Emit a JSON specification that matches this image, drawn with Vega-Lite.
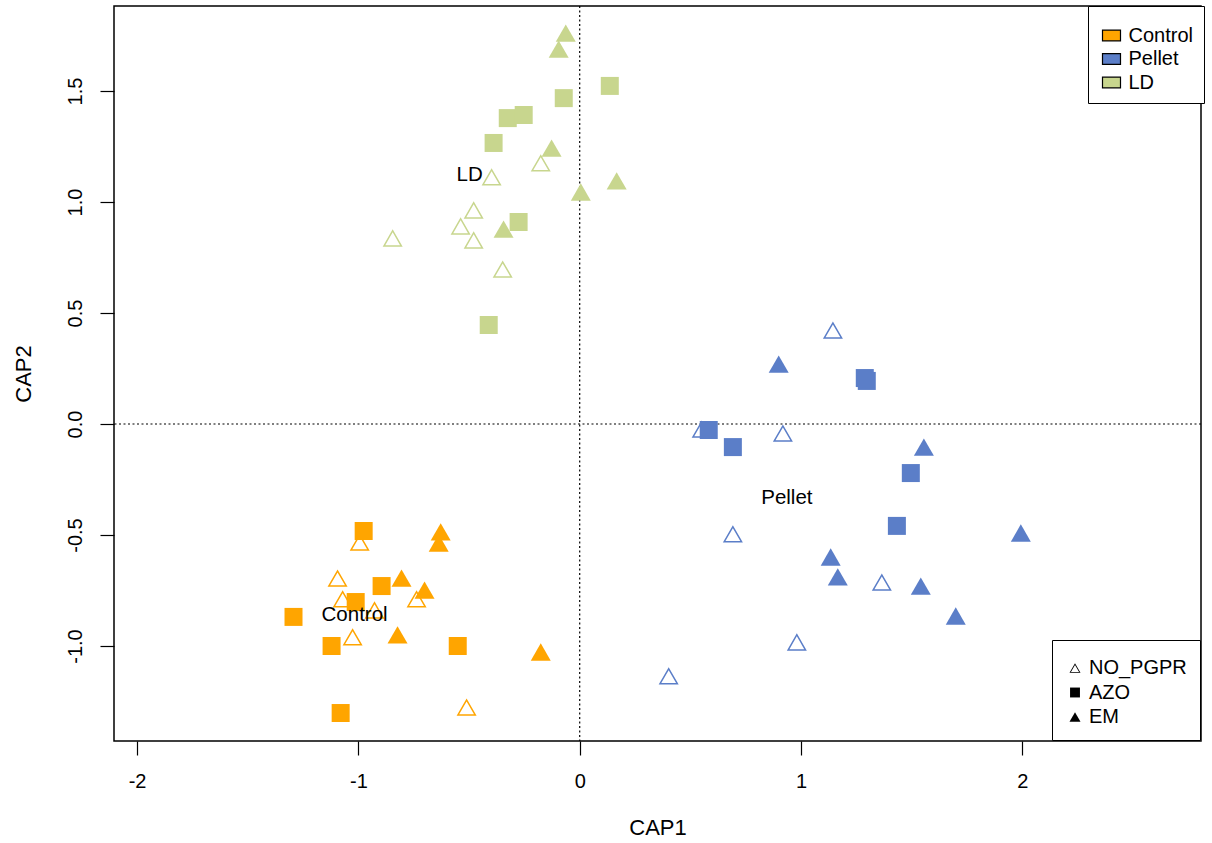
{
  "$schema": "https://vega.github.io/schema/vega-lite/v6.json",
  "width": 1087,
  "height": 735,
  "autosize": "none",
  "padding": {"left": 114, "top": 6, "right": 11, "bottom": 102},
  "background": "white",
  "config": {
    "font": "Liberation Sans",
    "view": {"stroke": "black", "strokeWidth": 1.5},
    "axis": {"grid": false, "domain": false, "tickColor": "black", "tickWidth": 1.2, "tickSize": 14, "labelFontSize": 20, "labelColor": "black", "labelFont": "Liberation Sans", "titleFont": "Liberation Sans", "titleFontSize": 22, "titleFontWeight": "normal", "titleColor": "black"},
    "axisX": {"labelPadding": 16, "titlePadding": 26},
    "axisY": {"labelPadding": 15, "titlePadding": 30, "labelAngle": 270, "labelAlign": "center", "labelBaseline": "bottom"}
  },
  "datasets": {
    "points": [
      {"site": "Control", "treatment": "NO_PGPR", "CAP1": -0.994, "CAP2": -0.532},
      {"site": "Control", "treatment": "NO_PGPR", "CAP1": -1.094, "CAP2": -0.694},
      {"site": "Control", "treatment": "NO_PGPR", "CAP1": -1.071, "CAP2": -0.788},
      {"site": "Control", "treatment": "NO_PGPR", "CAP1": -0.927, "CAP2": -0.838},
      {"site": "Control", "treatment": "NO_PGPR", "CAP1": -0.737, "CAP2": -0.788},
      {"site": "Control", "treatment": "NO_PGPR", "CAP1": -1.026, "CAP2": -0.959},
      {"site": "Control", "treatment": "NO_PGPR", "CAP1": -0.511, "CAP2": -1.275},
      {"site": "LD", "treatment": "NO_PGPR", "CAP1": -0.176, "CAP2": 1.176},
      {"site": "LD", "treatment": "NO_PGPR", "CAP1": -0.398, "CAP2": 1.113},
      {"site": "LD", "treatment": "NO_PGPR", "CAP1": -0.479, "CAP2": 0.964},
      {"site": "LD", "treatment": "NO_PGPR", "CAP1": -0.538, "CAP2": 0.892},
      {"site": "LD", "treatment": "NO_PGPR", "CAP1": -0.479, "CAP2": 0.829},
      {"site": "LD", "treatment": "NO_PGPR", "CAP1": -0.845, "CAP2": 0.838},
      {"site": "LD", "treatment": "NO_PGPR", "CAP1": -0.348, "CAP2": 0.698},
      {"site": "Pellet", "treatment": "NO_PGPR", "CAP1": 1.144, "CAP2": 0.423},
      {"site": "Pellet", "treatment": "NO_PGPR", "CAP1": 0.551, "CAP2": -0.023},
      {"site": "Pellet", "treatment": "NO_PGPR", "CAP1": 0.918, "CAP2": -0.041},
      {"site": "Pellet", "treatment": "NO_PGPR", "CAP1": 0.692, "CAP2": -0.495},
      {"site": "Pellet", "treatment": "NO_PGPR", "CAP1": 1.365, "CAP2": -0.712},
      {"site": "Pellet", "treatment": "NO_PGPR", "CAP1": 0.981, "CAP2": -0.982},
      {"site": "Pellet", "treatment": "NO_PGPR", "CAP1": 0.402, "CAP2": -1.135},
      {"site": "Control", "treatment": "AZO", "CAP1": -0.976, "CAP2": -0.482},
      {"site": "Control", "treatment": "AZO", "CAP1": -0.895, "CAP2": -0.730},
      {"site": "Control", "treatment": "AZO", "CAP1": -1.012, "CAP2": -0.802},
      {"site": "Control", "treatment": "AZO", "CAP1": -1.293, "CAP2": -0.869},
      {"site": "Control", "treatment": "AZO", "CAP1": -1.121, "CAP2": -1.0},
      {"site": "Control", "treatment": "AZO", "CAP1": -0.551, "CAP2": -1.0},
      {"site": "Control", "treatment": "AZO", "CAP1": -1.080, "CAP2": -1.302},
      {"site": "LD", "treatment": "AZO", "CAP1": 0.136, "CAP2": 1.523},
      {"site": "LD", "treatment": "AZO", "CAP1": -0.072, "CAP2": 1.468},
      {"site": "LD", "treatment": "AZO", "CAP1": -0.325, "CAP2": 1.378},
      {"site": "LD", "treatment": "AZO", "CAP1": -0.253, "CAP2": 1.392},
      {"site": "LD", "treatment": "AZO", "CAP1": -0.389, "CAP2": 1.266},
      {"site": "LD", "treatment": "AZO", "CAP1": -0.276, "CAP2": 0.910},
      {"site": "LD", "treatment": "AZO", "CAP1": -0.411, "CAP2": 0.446},
      {"site": "Pellet", "treatment": "AZO", "CAP1": 1.288, "CAP2": 0.207},
      {"site": "Pellet", "treatment": "AZO", "CAP1": 1.297, "CAP2": 0.194},
      {"site": "Pellet", "treatment": "AZO", "CAP1": 0.583, "CAP2": -0.027},
      {"site": "Pellet", "treatment": "AZO", "CAP1": 0.692, "CAP2": -0.104},
      {"site": "Pellet", "treatment": "AZO", "CAP1": 1.496, "CAP2": -0.221},
      {"site": "Pellet", "treatment": "AZO", "CAP1": 1.433, "CAP2": -0.459},
      {"site": "Control", "treatment": "EM", "CAP1": -0.628, "CAP2": -0.486},
      {"site": "Control", "treatment": "EM", "CAP1": -0.637, "CAP2": -0.536},
      {"site": "Control", "treatment": "EM", "CAP1": -0.805, "CAP2": -0.694},
      {"site": "Control", "treatment": "EM", "CAP1": -0.701, "CAP2": -0.748},
      {"site": "Control", "treatment": "EM", "CAP1": -0.823, "CAP2": -0.950},
      {"site": "Control", "treatment": "EM", "CAP1": -0.176, "CAP2": -1.027},
      {"site": "LD", "treatment": "EM", "CAP1": -0.063, "CAP2": 1.761},
      {"site": "LD", "treatment": "EM", "CAP1": -0.095, "CAP2": 1.689},
      {"site": "LD", "treatment": "EM", "CAP1": -0.127, "CAP2": 1.243},
      {"site": "LD", "treatment": "EM", "CAP1": 0.167, "CAP2": 1.095},
      {"site": "LD", "treatment": "EM", "CAP1": 0.005, "CAP2": 1.045},
      {"site": "LD", "treatment": "EM", "CAP1": -0.344, "CAP2": 0.878},
      {"site": "Pellet", "treatment": "EM", "CAP1": 0.899, "CAP2": 0.270},
      {"site": "Pellet", "treatment": "EM", "CAP1": 1.555, "CAP2": -0.104},
      {"site": "Pellet", "treatment": "EM", "CAP1": 1.993, "CAP2": -0.491},
      {"site": "Pellet", "treatment": "EM", "CAP1": 1.134, "CAP2": -0.599},
      {"site": "Pellet", "treatment": "EM", "CAP1": 1.166, "CAP2": -0.689},
      {"site": "Pellet", "treatment": "EM", "CAP1": 1.541, "CAP2": -0.730},
      {"site": "Pellet", "treatment": "EM", "CAP1": 1.699, "CAP2": -0.865}
    ],
    "labels": [
      {"label": "Control", "CAP1": -1.017, "CAP2": -0.860},
      {"label": "LD", "CAP1": -0.497, "CAP2": 1.122},
      {"label": "Pellet", "CAP1": 0.936, "CAP2": -0.333}
    ]
  },
  "layer": [
    {
      "data": {"values": [{"CAP1": 0}]},
      "mark": {"type": "rule", "color": "black", "strokeWidth": 1.2, "strokeDash": [2, 2.5]},
      "encoding": {
        "x": {"field": "CAP1", "type": "quantitative", "scale": {"domain": [-2.104, 2.807], "nice": false, "zero": false}, "title": "CAP1"}
      }
    },
    {
      "data": {"values": [{"CAP2": 0}]},
      "mark": {"type": "rule", "color": "black", "strokeWidth": 1.2, "strokeDash": [2, 2.5]},
      "encoding": {
        "y": {"field": "CAP2", "type": "quantitative", "scale": {"domain": [-1.428, 1.883], "nice": false, "zero": false}, "title": "CAP2"}
      }
    },
    {
      "data": {"name": "points"},
      "mark": {"type": "point", "filled": true, "opacity": 1, "strokeWidth": 0, "size": 400},
      "encoding": {
        "x": {"field": "CAP1", "type": "quantitative", "scale": {"domain": [-2.104, 2.807], "nice": false, "zero": false}, "title": "CAP1",
          "axis": {"values": [-2, -1, 0, 1, 2], "labelExpr": "replace(format(datum.value, '.0f'), '\u2212', '-')"}},
        "y": {"field": "CAP2", "type": "quantitative", "scale": {"domain": [-1.428, 1.883], "nice": false, "zero": false}, "title": "CAP2",
          "axis": {"values": [-1, -0.5, 0, 0.5, 1, 1.5], "labelExpr": "replace(format(datum.value, '.1f'), '\u2212', '-')"}},
        "color": {"field": "site", "type": "nominal",
          "scale": {"domain": ["Control", "Pellet", "LD"], "range": ["#FFA500", "#5B7EC8", "#C8D68E"]},
          "legend": {"orient": "none", "legendX": 974, "legendY": 0, "title": " ", "titleFontSize": 6, "titlePadding": 0, "strokeColor": "black", "fillColor": "white", "padding": 10.5,
            "symbolType": "M-0.75,-0.45L0.75,-0.45L0.75,0.45L-0.75,0.45Z", "symbolSize": 576, "symbolStrokeColor": "black", "symbolStrokeWidth": 1.2, "symbolOpacity": 1,
            "labelFontSize": 20, "labelColor": "black", "labelOffset": 4, "rowPadding": 0.5}},
        "shape": {"field": "treatment", "type": "nominal",
          "scale": {"domain": ["NO_PGPR", "AZO", "EM"], "range": ["M0,-0.866L1,0.866L-1,0.866ZM0,-0.566L-0.74,0.716L0.74,0.716Z", "M-0.9,-0.9L0.9,-0.9L0.9,0.9L-0.9,0.9Z", "M0,-0.866L1,0.866L-1,0.866Z"]},
          "legend": {"orient": "none", "legendX": 938, "legendY": 634, "title": " ", "titleFontSize": 5, "titlePadding": 0, "strokeColor": "black", "fillColor": "white", "padding": 13,
            "symbolSize": 121, "symbolFillColor": "black", "symbolStrokeWidth": 0, "symbolOpacity": 1,
            "labelFontSize": 20, "labelColor": "black", "labelOffset": 4, "rowPadding": 4.5}}
      }
    },
    {
      "data": {"name": "labels"},
      "mark": {"type": "text", "fontSize": 20.5, "color": "black", "font": "Liberation Sans"},
      "encoding": {
        "x": {"field": "CAP1", "type": "quantitative", "scale": {"domain": [-2.104, 2.807], "nice": false, "zero": false}, "title": "CAP1"},
        "y": {"field": "CAP2", "type": "quantitative", "scale": {"domain": [-1.428, 1.883], "nice": false, "zero": false}, "title": "CAP2"},
        "text": {"field": "label", "type": "nominal"}
      }
    }
  ]
}
